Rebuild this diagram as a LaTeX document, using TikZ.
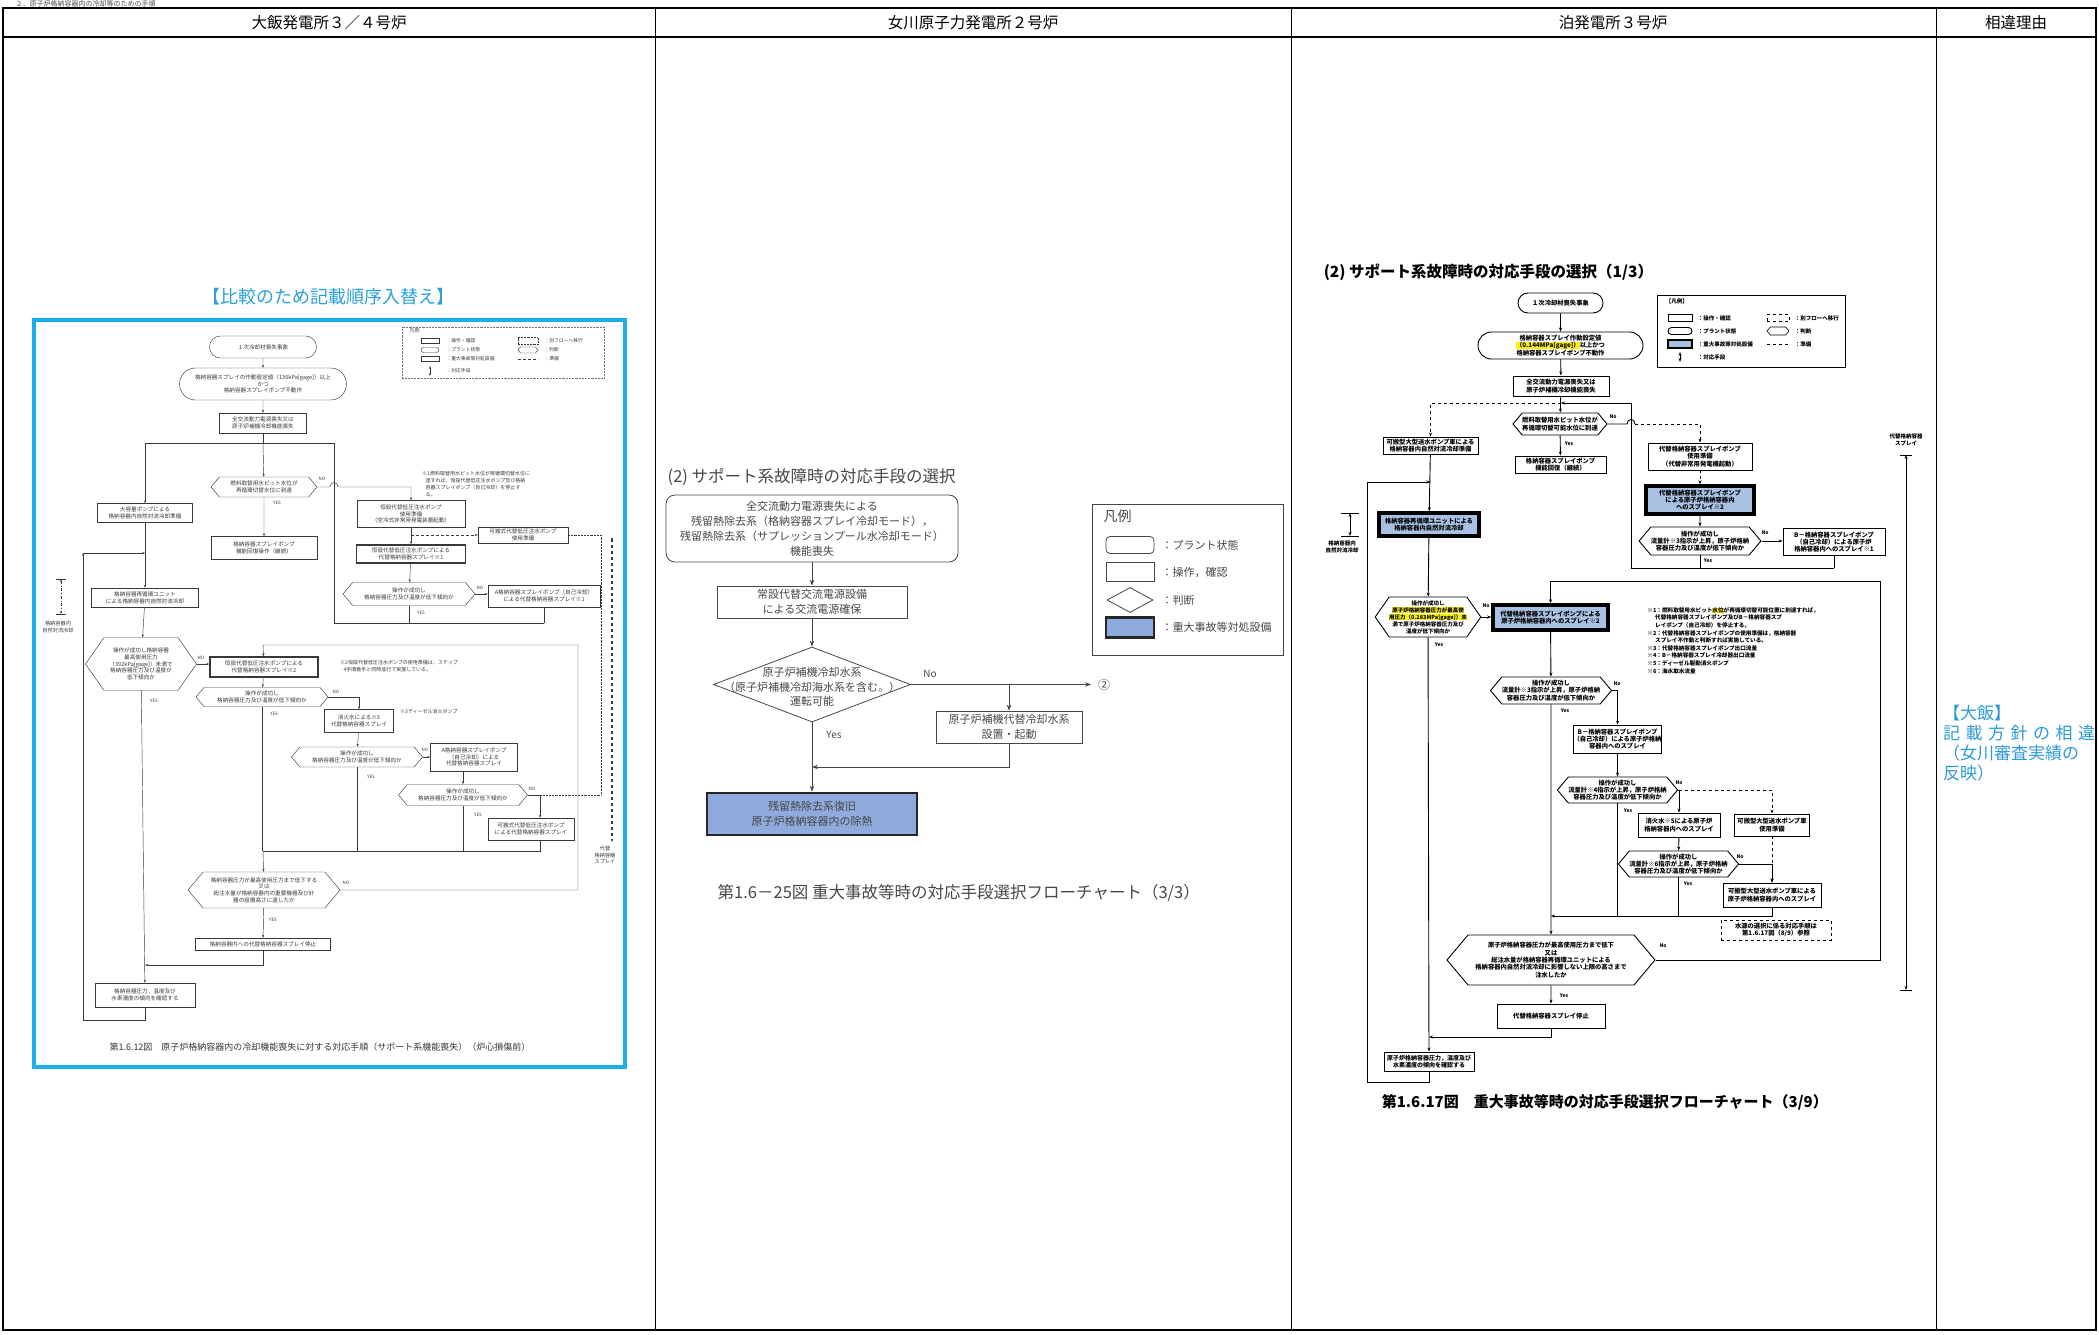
\documentclass[tikz,border=0pt]{standalone}
\usepackage{fontspec}
\setmainfont{Noto Sans CJK JP}
\XeTeXlinebreaklocale "ja"
\usetikzlibrary{shapes.misc,shapes.geometric,shapes.symbols,positioning,calc,arrows.meta}
\definecolor{cmpblue}{HTML}{1AAFEB}
\definecolor{titlecyan}{HTML}{2A9FDC}
\definecolor{reasoncyan}{HTML}{2D9AD8}
\definecolor{safetyblue}{HTML}{8FAADC}
\definecolor{tomariblue}{HTML}{A8C0E2}
\newcommand{\fs}[2]{\fontsize{#1}{#2}\selectfont}
\newcommand{\hlt}[1]{{\setlength{\fboxsep}{0pt}\colorbox{yellow}{#1}}}

\begin{document}
\begin{tikzpicture}[x=1pt,y=-1pt,
  wh/.style 2 args={minimum width=#1pt,minimum height=#2pt},
  opbox/.style={draw,rectangle,inner sep=0pt,align=center},
  plantbox/.style={draw,rounded rectangle,inner sep=0pt,align=center},
  judgebox/.style={draw,signal,signal to=east and west,signal pointer angle=100,inner sep=0pt,align=center},
  sabox/.style={draw,rectangle,inner sep=0pt,align=center,line width=1.4pt},
  prepbox/.style={draw,dashed,rectangle,inner sep=0pt,align=center},
  yesno/.style={inner sep=0pt},
  notetext/.style={inner sep=0pt,align=left,anchor=north west}]
	\useasboundingbox (0,0) rectangle (2099,1335);

	\node[font=\fs{7}{8},text=black!70,anchor=west] (secfrag) at (12,3.6) {２．原子炉格納容器内の冷却等のための手順};
	\draw[line width=1.2pt] (3,8) rectangle (2096,1330);
	\draw[line width=2.2pt] (3,8) -- (2096,8);
	\draw[line width=1.8pt] (3,37) -- (2096,37);
	\foreach \x in {655,1291,1936}
		\draw[line width=1pt] (\x,8) -- (\x,1330);
	\node[font=\fs{15.5}{17}] (hohi) at (329,23) {大飯発電所３／４号炉};
	\node[font=\fs{15.5}{17}] (hona) at (973,23) {女川原子力発電所２号炉};
	\node[font=\fs{15.5}{17}] (htom) at (1613,23) {泊発電所３号炉};
	\node[font=\fs{15.5}{17}] (hdif) at (2016,23) {相違理由};

	\node[notetext,font=\fs{17}{20},text=reasoncyan] (rohi) at (1943,705) {【大飯】\\\makebox[152pt][s]{記\hfil 載\hfil 方\hfil 針\hfil の\hfil 相\hfil 違}\\（女川審査実績の\\反映）};

	\node[font=\fs{18}{20},text=titlecyan] (otitle) at (328,297) {【比較のため記載順序入替え】};
	\draw[cmpblue,line width=4.5pt] (34,320) rectangle (625,1067);

	\begin{scope}[font=\fs{5.6}{6.6},line width=0.45pt,color=black!78,>={Stealth[length=3pt,width=2.2pt]}]
		\node[draw,densely dotted,wh={202}{51},black!55] (olegend) at (503,352.5) {};
		\node[anchor=west,font=\fs{5}{6}] (olegh) at (406,331) {凡例};
		\node[opbox,wh={18}{5}] (olg1) at (430,341) {};
		\node[anchor=west,font=\fs{4.8}{5.5}] (olg1t) at (443,341) {：操作・確認};
		\node[plantbox,wh={18}{5}] (olg2) at (430,350) {};
		\node[anchor=west,font=\fs{4.8}{5.5}] (olg2t) at (443,350) {：プラント状態};
		\node[sabox,wh={18}{5},line width=1pt] (olg3) at (430,359) {};
		\node[anchor=west,font=\fs{4.8}{5.5}] (olg3t) at (443,359) {：重大事故等対処設備};
		\coordinate (olg4a) at (430,366);
		\coordinate (olg4b) at (430,376);
		\draw[<->] (olg4a) -- (olg4b);
		\node[anchor=west,font=\fs{4.8}{5.5}] (olg4t) at (443,371) {：対応手段};
		\node[draw,densely dotted,wh={20}{5}] (olg5) at (528,341) {};
		\node[anchor=west,font=\fs{4.8}{5.5}] (olg5t) at (541,341) {：別フローへ移行};
		\node[judgebox,wh={20}{6}] (olg6) at (528,350) {};
		\node[anchor=west,font=\fs{4.8}{5.5}] (olg6t) at (541,350) {：判断};
		\coordinate (olg7a) at (518,359);
		\coordinate (olg7b) at (538,359);
		\draw[densely dashed] (olg7a) -- (olg7b);
		\node[anchor=west,font=\fs{4.8}{5.5}] (olg7t) at (541,359) {：準備};

		\node[plantbox,wh={107}{22}] (o1) at (263,347) {１次冷却材喪失事象};
		\node[plantbox,wh={167}{32}] (o2) at (263,384) {格納容器スプレイの作動設定値（136kPa[gage]）以上\\かつ\\格納容器スプレイポンプ不動作};
		\node[opbox,wh={87}{20}] (o3) at (263,423) {全交流動力電源喪失又は\\原子炉補機冷却機能喪失};
		\node[judgebox,wh={106}{20}] (o4) at (264,487) {燃料取替用水ピット水位が\\再循環切替水位に到達};
		\node[opbox,wh={106}{23}] (o5) at (264,548) {格納容器スプレイポンプ\\機能回復操作（継続）};
		\node[opbox,wh={95}{19}] (o6) at (145,513) {大容量ポンプによる\\格納容器内自然対流冷却準備};
		\node[opbox,wh={108}{27}] (o7) at (411,514) {恒設代替低圧注水ポンプ\\使用準備\\（空冷式非常用発電装置起動）};
		\node[opbox,wh={90}{16}] (o8) at (523,535) {可搬式代替低圧注水ポンプ\\使用準備};
		\node[sabox,wh={109}{18}] (o9) at (411,554) {恒設代替低圧注水ポンプによる\\代替格納容器スプレイ※1};
		\node[judgebox,wh={132}{23}] (o10) at (409,594) {操作が成功し\\格納容器圧力及び温度が低下傾向か};
		\node[opbox,wh={112}{22}] (o11) at (544,596) {A格納容器スプレイポンプ（自己冷却）\\による代替格納容器スプレイ※1};
		\node[sabox,wh={107}{19}] (o12) at (145,598) {格納容器再循環ユニット\\による格納容器内自然対流冷却};
		\node[judgebox,wh={111}{53},signal pointer angle=110] (o13) at (141,664) {操作が成功し格納容器\\最高使用圧力\\（392kPa[gage]）未満で\\格納容器圧力及び温度が\\低下傾向か};
		\node[sabox,wh={108}{20}] (o14) at (264,667) {恒設代替低圧注水ポンプによる\\代替格納容器スプレイ※2};
		\node[judgebox,wh={132}{19}] (o15) at (262,697) {操作が成功し\\格納容器圧力及び温度が低下傾向か};
		\node[opbox,wh={69}{23}] (o16) at (359,721) {消火水による※3\\代替格納容器スプレイ};
		\node[judgebox,wh={131}{20}] (o17) at (357,757) {操作が成功し\\格納容器圧力及び温度が低下傾向か};
		\node[opbox,wh={87}{28}] (o18) at (474,757) {A格納容器スプレイポンプ\\（自己冷却）による\\代替格納容器スプレイ};
		\node[judgebox,wh={129}{21}] (o19) at (463,795) {操作が成功し\\格納容器圧力及び温度が低下傾向か};
		\node[opbox,wh={86}{22}] (o20) at (531,829) {可搬式代替低圧注水ポンプ\\による代替格納容器スプレイ};
		\node[judgebox,wh={152}{36}] (o21) at (264,890) {格納容器圧力が最高使用圧力まで低下する\\又は\\総注水量が格納容器内の重要機器及び計\\器の設置高さに達したか};
		\node[opbox,wh={135}{12}] (o22) at (263,944) {格納容器内への代替格納容器スプレイ停止};
		\node[opbox,wh={100}{24}] (o23) at (145,995) {格納容器圧力，温度及び\\水素濃度の傾向を確認する};

		\node[notetext,font=\fs{5}{7}] (on1) at (422,471) {※1燃料取替用水ピット水位が再循環切替水位に\\\ \ \ 達すれば，恒設代替低圧注水ポンプ及び格納\\\ \ \ 容器スプレイポンプ（自己冷却）を停止す\\\ \ \ る。};
		\node[notetext,font=\fs{5}{7}] (on2) at (340,660) {※2恒設代替低圧注水ポンプの使用準備は，ステップ\\\ \ \ 4手順着手と同時並行で実施している。};
		\node[notetext,font=\fs{5}{7}] (on3) at (400,709) {※3ディーゼル消火ポンプ};
		\node[align=center,font=\fs{5.2}{6.4}] (omk1t) at (58,627) {格納容器内\\自然対流冷却};
		\node[align=center,font=\fs{5.2}{6.4}] (omk2t) at (605,855) {代替\\格納容器\\スプレイ};

		\foreach \nm/\px/\py/\tx in {y1/277/503/YES,n1/322/479/NO,y2/421/613/YES,n2/480/588/NO,y3/154/701/YES,n3/201/658/NO,y4/274/714/YES,n4/336/692/NO,y5/371/777/YES,n5/425/750/NO,y6/478/815/YES,n6/532/789/NO,y7/273/920/YES,n7/346/883/NO}
			\node[yesno,font=\fs{4.5}{5}] (oyn\nm) at (\px,\py) {\tx};

		\coordinate (obranch) at (263,443);
		\coordinate (oL) at (145,443);
		\coordinate (oR) at (334,443);
		\coordinate (oRb) at (334,623);
		\coordinate (oNo19) at (540,795);
		\coordinate (odot) at (601,795);
		\coordinate (odotT) at (601,535);
		\coordinate (omerge) at (263,851);
		\coordinate (otop) at (263,645);
		\coordinate (otopR) at (578,645);
		\coordinate (oret) at (578,890);
		\coordinate (ojoin) at (145,965);
		\coordinate (oloopA) at (83,1020);
		\coordinate (oloopB) at (83,553);
		\coordinate (omkA) at (61,579);
		\coordinate (omkB) at (61,614);
		\coordinate (omkC) at (612,537);
		\coordinate (omkD) at (612,842);

		\draw[->] (o1) -- (o2);
		\draw[->] (o2) -- (o3);
		\draw (o3) -- (obranch);
		\draw (oL) -- (oR);
		\draw[->] (obranch) -- (o4);
		\draw[->] (oL) -- (o6);
		\draw (oR) -- (oRb) -- (oRb -| o11);
		\draw[->] (o4) -- (o5);
		\draw[->] (o4.east) -- ($(o4.east -| oR)+(-4,0)$) .. controls +(0,-6) and +(0,-6) .. ($(o4.east -| oR)+(4,0)$) -| (o7);
		\draw[->] (o7) -- (o9);
		\draw[->,densely dashed] (o7.south |- o8.west) -- (o8.west);
		\draw[->] (o9) -- (o10);
		\draw[->] (o10.east) -- (o10.east -| o11.west);
		\draw (o10.south) -- (o10.south |- oRb);
		\draw (o11.south) -- (o11.south |- oRb);
		\draw[->] (o6) -- (o12);
		\draw[->] (oloopB) -- (oloopB -| o6);
		\draw[->] (o12) -- (o13);
		\draw[->] (o13.east) -- (o13.east -| o14.west);
		\draw[->] (o21.east) -- (oret) -- (otopR) -- (otop) -- (o14);
		\draw[->] (o14) -- (o15);
		\draw[->] (o15.east) -| (o16);
		\draw (o15.south) -- (o15.south |- omerge);
		\draw[->] (o16) -- (o17);
		\draw[->] (o17.east) -- (o17.east -| o18.west);
		\draw (o17.south) -- (o17.south |- omerge);
		\draw[->] (o18.south -| o19.north) -- (o19.north);
		\draw (o19.south) -- (o19.south |- omerge);
		\draw[->] (o19.east) -- (oNo19) -- (oNo19 |- o20.north);
		\draw[densely dotted] (oNo19) -- (odot) -- (odotT) -- (o8.east);
		\draw (oNo19 |- o20.south) -- (oNo19 |- omerge) -- (omerge);
		\draw[->] (omerge) -- (o21);
		\draw[->] (o21) -- (o22);
		\draw[->] (o22.south) |- (ojoin);
		\draw[->] (o13) -- (o23);
		\draw[->] (o23.south) |- (oloopA) -- (oloopB);
		\draw[<->,dash dot] (omkA) -- (omkB);
		\draw ($(omkA)+(-5,0)$) -- ($(omkA)+(5,0)$);
		\draw ($(omkB)+(-5,0)$) -- ($(omkB)+(5,0)$);
		\draw[<->,dashed,line width=1.1pt] (omkC) -- (omkD);

		\node[font=\fs{9}{11}] (ocap) at (320,1047) {第1.6.12図　原子炉格納容器内の冷却機能喪失に対する対応手順（サポート系機能喪失）（炉心損傷前）};
	\end{scope}

	\begin{scope}[font=\fs{11}{15},line width=0.8pt,color=black!72,>={Stealth[length=6pt,width=4.5pt]}]
		\node[anchor=west,font=\fs{16.5}{18}] (ntitle) at (664,477) {(2)\ サポート系故障時の対応手段の選択};
		\node[opbox,rounded corners=9pt,wh={292}{67}] (n1) at (812,528.5) {全交流動力電源喪失による\\残留熱除去系（格納容器スプレイ冷却モード），\\残留熱除去系（サプレッションプール水冷却モード）\\機能喪失};
		\node[opbox,wh={190}{32}] (n2) at (812,602) {常設代替交流電源設備\\による交流電源確保};
		\node[draw,diamond,inner sep=0pt,wh={197}{75}] (n3) at (812,684.5) {};
		\node[align=center,inner sep=0pt,font=\fs{11}{14.5}] (n3t) at (812,687) {原子炉補機冷却水系\\（原子炉補機冷却海水系を含む。）\\運転可能};
		\node[opbox,wh={146}{32}] (n4) at (1009,727) {原子炉補機代替冷却水系\\設置・起動};
		\node[opbox,wh={210}{42},line width=2.6pt,draw=black!85,fill=safetyblue] (n5) at (812,814) {残留熱除去系復旧\\原子炉格納容器内の除熱};
		\node[yesno,font=\fs{10}{11}] (nno) at (930,674) {No};
		\node[yesno,font=\fs{10}{11}] (nyes) at (834,735) {Yes};
		\node[font=\fs{12}{13}] (ncirc) at (1104,684.5) {②};
		\coordinate (nend) at (1091,684.5);
		\coordinate (njoin) at (812,767);
		\draw[->] (n1) -- (n2);
		\draw[->] (n2) -- (n3);
		\draw[->] (n3.east) -- (nend);
		\draw[->] (n3.east -| n4) -- (n4);
		\draw[->] (n4.south) |- (njoin);
		\draw[->] (n3) -- (n5);

		\node[draw,wh={191}{151},line width=0.7pt] (nleg) at (1187.5,579.5) {};
		\node[anchor=west,font=\fs{14}{15}] (nlegh) at (1100,516) {凡例};
		\node[opbox,rounded corners=4pt,wh={48}{17}] (nlg1) at (1130,545) {};
		\node[anchor=west] (nlg1t) at (1158,545) {：プラント状態};
		\node[opbox,wh={48}{19}] (nlg2) at (1130,572) {};
		\node[anchor=west] (nlg2t) at (1158,572) {：操作，確認};
		\node[draw,diamond,inner sep=0pt,wh={46}{25}] (nlg3) at (1130,600) {};
		\node[anchor=west] (nlg3t) at (1158,600) {：判断};
		\node[opbox,wh={48}{20},line width=2.6pt,draw=black!85,fill=safetyblue] (nlg4) at (1130,627.5) {};
		\node[anchor=west] (nlg4t) at (1158,627.5) {：重大事故等対処設備};

		\node[anchor=west,font=\fs{16.5}{18}] (ncap) at (714,893) {第1.6－25図 重大事故等時の対応手段選択フローチャート（3/3）};
	\end{scope}

	\begin{scope}[font=\fs{6.3}{7.4}\bfseries,line width=0.9pt,>={Stealth[length=4pt,width=3pt]}]
		\node[anchor=west,font=\fs{15.5}{17}\bfseries] (ttitle) at (1320,272) {(2)\ サポート系故障時の対応手段の選択（1/3）};
		\node[draw,wh={188}{72}] (tleg) at (1751,331) {};
		\node[anchor=west,font=\fs{5.5}{6}\bfseries] (tlegh) at (1662,301) {【凡例】};
		\node[opbox,wh={24}{7}] (tlg1) at (1680,318) {};
		\node[anchor=west,font=\fs{5.5}{6}\bfseries] (tlg1t) at (1694,318) {：操作・確認};
		\node[plantbox,wh={24}{7}] (tlg2) at (1680,331) {};
		\node[anchor=west,font=\fs{5.5}{6}\bfseries] (tlg2t) at (1694,331) {：プラント状態};
		\node[sabox,wh={24}{8},line width=2.4pt,fill=tomariblue] (tlg3) at (1680,344) {};
		\node[anchor=west,font=\fs{5.5}{6}\bfseries] (tlg3t) at (1694,344) {：重大事故等対処設備};
		\coordinate (tlg4a) at (1680,352);
		\coordinate (tlg4b) at (1680,362);
		\draw[<->,line width=0.6pt] (tlg4a) -- (tlg4b);
		\node[anchor=west,font=\fs{5.5}{6}\bfseries] (tlg4t) at (1694,357) {：対応手段};
		\node[prepbox,wh={22}{7},line width=0.6pt] (tlg5) at (1778,318) {};
		\node[anchor=west,font=\fs{5.5}{6}\bfseries] (tlg5t) at (1791,318) {：別フローへ移行};
		\node[judgebox,wh={22}{8},line width=0.6pt] (tlg6) at (1778,331) {};
		\node[anchor=west,font=\fs{5.5}{6}\bfseries] (tlg6t) at (1791,331) {：判断};
		\coordinate (tlg7a) at (1767,344);
		\coordinate (tlg7b) at (1789,344);
		\draw[dashed,line width=0.6pt] (tlg7a) -- (tlg7b);
		\node[anchor=west,font=\fs{5.5}{6}\bfseries] (tlg7t) at (1791,344) {：準備};

		\node[plantbox,wh={85}{20}] (t1) at (1560.5,303) {１次冷却材喪失事象};
		\node[plantbox,wh={165}{27}] (t2) at (1560.5,345.5) {格納容器スプレイ作動設定値\\\hlt{（0.144MPa[gage]）}以上かつ\\格納容器スプレイポンプ不動作};
		\node[opbox,wh={96}{20}] (t3) at (1561,386) {全交流動力電源喪失又は\\原子炉補機冷却機能喪失};
		\node[judgebox,wh={94}{22}] (t4) at (1560,424) {燃料取替用水ピット水位が\\再循環切替可能水位に到達};
		\node[opbox,wh={91}{17}] (t5) at (1560.5,464.5) {格納容器スプレイポンプ\\機能回復（継続）};
		\node[opbox,wh={95}{17}] (t6) at (1430.5,445.5) {可搬型大型送水ポンプ車による\\格納容器内自然対流冷却準備};
		\node[sabox,wh={100}{23},line width=3.5pt,fill=tomariblue] (t7) at (1429,524.5) {格納容器再循環ユニットによる\\格納容器内自然対流冷却};
		\node[opbox,wh={104}{27}] (t8) at (1700,456.5) {代替格納容器スプレイポンプ\\使用準備\\（代替非常用発電機起動）};
		\node[sabox,wh={108}{28},line width=3.5pt,fill=tomariblue] (t9) at (1700,500) {代替格納容器スプレイポンプ\\による原子炉格納容器内\\へのスプレイ※2};
		\node[judgebox,wh={120}{28}] (t10) at (1700,541) {操作が成功し\\流量計※3指示が上昇，原子炉格納\\容器圧力及び温度が低下傾向か};
		\node[opbox,wh={102}{27}] (t11) at (1834,542) {B－格納容器スプレイポンプ\\（自己冷却）による原子炉\\格納容器内へのスプレイ※1};
		\node[judgebox,wh={104}{40},signal pointer angle=110,font=\fs{5.5}{7}\bfseries] (t12) at (1428,617) {操作が成功し\\\hlt{原子炉格納容器圧力が最高使}\\\hlt{用圧力（0.283MPa[gage]）未}\\満で原子炉格納容器圧力及び\\温度が低下傾向か};
		\node[sabox,wh={115}{25},line width=3.5pt,fill=tomariblue] (t13) at (1550.5,617.5) {代替格納容器スプレイポンプによる\\原子炉格納容器内へのスプレイ※2};
		\node[judgebox,wh={116}{27}] (t14) at (1551,690.5) {操作が成功し\\流量計※3指示が上昇，原子炉格納\\容器圧力及び温度が低下傾向か};
		\node[opbox,wh={87}{28}] (t15) at (1617.5,739) {B－格納容器スプレイポンプ\\（自己冷却）による原子炉格納\\容器内へのスプレイ};
		\node[judgebox,wh={111}{26}] (t16) at (1617.5,790) {操作が成功し\\流量計※4指示が上昇，原子炉格納\\容器圧力及び温度が低下傾向か};
		\node[opbox,wh={82}{24}] (t17) at (1679,825) {消火水※5による原子炉\\格納容器内へのスプレイ};
		\node[opbox,wh={75}{22}] (t18) at (1772,825) {可搬型大型送水ポンプ車\\使用準備};
		\node[judgebox,wh={113}{26}] (t19) at (1678.5,864) {操作が成功し\\流量計※6指示が上昇，原子炉格納\\容器圧力及び温度が低下傾向か};
		\node[opbox,wh={98}{24}] (t20) at (1772,895) {可搬型大型送水ポンプ車による\\原子炉格納容器内へのスプレイ};
		\node[prepbox,wh={110}{20},line width=0.7pt] (t21) at (1776,930) {水源の選択に係る対応手順は\\第1.6.17図（8/9）参照};
		\node[judgebox,wh={208}{50}] (t22) at (1551,960) {原子炉格納容器圧力が最高使用圧力まで低下\\又は\\総注水量が格納容器再循環ユニットによる\\格納容器内自然対流冷却に影響しない上限の高さまで\\注水したか};
		\node[opbox,wh={108}{24}] (t23) at (1551,1016) {代替格納容器スプレイ停止};
		\node[opbox,wh={90}{19},font=\fs{6}{7}\bfseries] (t24) at (1429,1061.5) {原子炉格納容器圧力，温度及び\\水素濃度の傾向を確認する};

		\node[notetext,font=\fs{5.6}{7.6}\bfseries] (tnote) at (1647,607) {※1：燃料取替用水ピット\hlt{水位}が再循環切替可能位置に到達すれば，\\\ \ \ \ \ \ 代替格納容器スプレイポンプ及びB－格納容器スプ\\\ \ \ \ \ \ レイポンプ（自己冷却）を停止する。\\※2：代替格納容器スプレイポンプの使用準備は，格納容器\\\ \ \ \ \ \ スプレイ不作動と判断すれば実施している。\\※3：代替格納容器スプレイポンプ出口流量\\※4：B－格納容器スプレイ冷却器出口流量\\※5：ディーゼル駆動消火ポンプ\\※6：海水取水流量};
		\node[align=center,font=\fs{5.5}{6.8}\bfseries] (tmk1t) at (1342,547) {格納容器内\\自然対流冷却};
		\node[align=center,font=\fs{5.5}{6.8}\bfseries] (tmk2t) at (1906,440) {代替格納容器\\スプレイ};

		\foreach \nm/\px/\py/\tx in {n1/1613/417/No,y1/1569/444/Yes,n2/1765/533/No,y2/1708/561/Yes,n3/1486/606/No,y3/1439/645/Yes,n4/1617/684/No,y4/1565/711/Yes,n5/1679/783/No,y5/1628/811/Yes,n6/1740/857/No,y6/1688/884/Yes,n7/1663/946/No,y7/1564/996/Yes}
			\node[yesno,font=\fs{5}{6}\bfseries] (tyn\nm) at (\px,\py) {\tx};

		\coordinate (tj) at (1561,403);
		\coordinate (tA) at (1631,403);
		\coordinate (tB) at (1631,568);
		\coordinate (tC) at (1834,568);
		\coordinate (tR1) at (1880,581);
		\coordinate (tM) at (1551,916);
		\coordinate (tJ) at (1429,1037);
		\coordinate (tL0) at (1367,1082);
		\coordinate (tL1) at (1367,482);
		\coordinate (tmkA) at (1350,513);
		\coordinate (tmkB) at (1350,536);
		\coordinate (tmkC) at (1906,455);
		\coordinate (tmkD) at (1906,990);

		\draw[->] (t1) -- (t2);
		\draw[->] (t2) -- (t3);
		\draw[->] (t3) -- (t4);
		\draw[->] (tC) -- (tB) -- (tA) -- (tj);
		\draw (t11) -- (tC);
		\draw (t10.south) -- (t10.south |- tB);
		\draw[->,dashed] (tj) -| (t6);
		\draw[->] (t4) -- (t5);
		\draw (t4.east) -- ($(t4.east -| tA)+(-4,0)$) .. controls +(0,-6) and +(0,-6) .. ($(t4.east -| tA)+(4,0)$);
		\draw[->,dashed] ($(t4.east -| tA)+(4,0)$) -| (t8);
		\draw[->,dashed] (t8) -- (t9);
		\draw[->] (t9) -- (t10);
		\draw[->] (t10.east) -- (t10.east -| t11.west);
		\draw[->] (t6) -- (t7);
		\draw[->] (tL1) -- (tL1 -| t6);
		\draw[->] (t7) -- (t12);
		\draw[->] (t12.east) -- (t12.east -| t13.west);
		\draw[->] (t22.east) -| (tR1) -- (tR1 -| t13) -- (t13);
		\draw[->] (t13) -- (t14);
		\draw[->] (t14.east) -| (t15);
		\draw[->] (t14) -- (t22);
		\draw[->] (t15) -- (t16);
		\draw[->] (t16.east) -| (t17);
		\draw[->,dashed] (t16.east -| t17) -| (t18);
		\draw (t16.south) -- (t16.south |- tM);
		\draw[->] (t17) -- (t19);
		\draw[->,dashed] (t18) -- (t20);
		\draw[->] (t19.east) -| (t20);
		\draw (t19.south) -- (t19.south |- tM);
		\draw[->] (t20.south) |- (tM);
		\draw[->] (t22) -- (t23);
		\draw[->] (t23.south) |- (tJ);
		\draw[->] (t12) -- (t24);
		\draw (t24.south) |- (tL0) -- (tL1);
		\draw[<->,line width=0.6pt] (tmkA) -- (tmkB);
		\draw[line width=0.6pt] ($(tmkA)+(-9,0)$) -- ($(tmkA)+(9,0)$);
		\draw[line width=0.6pt] ($(tmkB)+(-9,0)$) -- ($(tmkB)+(9,0)$);
		\draw[<->,line width=0.6pt] (tmkC) -- (tmkD);
		\draw[line width=0.6pt] ($(tmkC)+(-6,0)$) -- ($(tmkC)+(6,0)$);
		\draw[line width=0.6pt] ($(tmkD)+(-6,0)$) -- ($(tmkD)+(6,0)$);

		\node[anchor=west,font=\fs{15}{17}\bfseries] (tcap) at (1378,1102) {第1.6.17図　重大事故等時の対応手段選択フローチャート（3/9）};
	\end{scope}
\end{tikzpicture}
\end{document}
